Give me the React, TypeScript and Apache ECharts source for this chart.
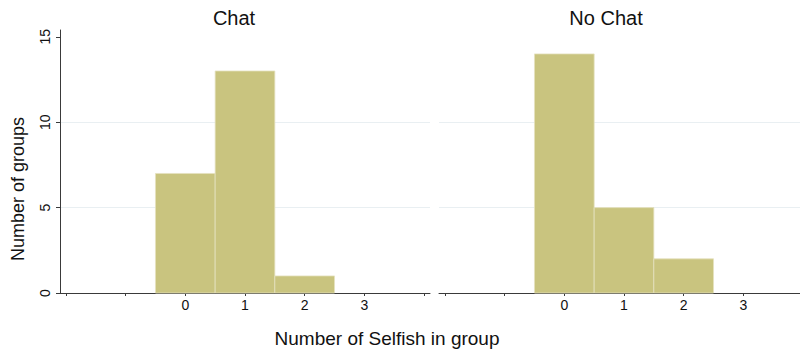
import React, { useEffect, useRef } from "react";
import * as echarts from "echarts";

const panels = ["Chat", "No Chat"];
const bins = [0, 1, 2];
const chatCounts = [7, 13, 1];
const noChatCounts = [14, 5, 2];
const xTicks = [-2, -1, 0, 1, 2, 3, 4];
const xLabels = [0, 1, 2, 3];
const yTicks = [0, 5, 10, 15];

const FONT = "Liberation Sans, Arial, sans-serif";
const BAR = "#c9c47f";
const AXIS = "#3a3a3a";

export default function App() {
  const ref = useRef<HTMLDivElement>(null);
  useEffect(() => {
    document.body.style.margin = "0";
    const chart = echarts.init(ref.current!, null, { renderer: "svg" });
    const grids = [
      { left: 60, top: 30, width: 370, height: 263, outerBoundsMode: "none", containLabel: false },
      { left: 439, top: 30, width: 370, height: 263, outerBoundsMode: "none", containLabel: false },
    ];
    const seriesData = [chatCounts, noChatCounts];
    const xAxes = grids.map((_, i) => ({
      type: "value",
      gridIndex: i,
      min: -2.1,
      max: 4.1,
      axisLine: { show: true, onZero: false, lineStyle: { color: AXIS, width: 1 } },
      axisTick: { show: true, customValues: xTicks, length: 3, lineStyle: { color: AXIS } },
      axisLabel: {
        customValues: xLabels,
        color: "#111",
        fontSize: 14,
        fontFamily: FONT,
        margin: 5,
      },
      splitLine: { show: false },
    }));
    const yAxes = grids.map((_, i) => ({
      type: "value",
      gridIndex: i,
      min: 0,
      max: 15.4,
      axisLine: { show: i === 0, onZero: false, lineStyle: { color: AXIS, width: 1 } },
      axisTick: { show: i === 0, customValues: yTicks, length: 4, lineStyle: { color: AXIS } },
      axisLabel: {
        show: i === 0,
        customValues: yTicks,
        rotate: 90,
        color: "#111",
        fontSize: 14,
        fontFamily: FONT,
        margin: 8,
      },
      splitLine: {
        show: true,
        showMinLine: false,
        showMaxLine: false,
        lineStyle: { color: "#e9eff2", width: 1 },
      },
    }));
    const series = seriesData.map((vals, i) => ({
      type: "custom",
      xAxisIndex: i,
      yAxisIndex: i,
      data: bins.map((b, j) => [b, vals[j]]),
      renderItem: (params: any, api: any) => {
        const x = api.value(0);
        const y = api.value(1);
        const p0 = api.coord([x - 0.5, y]);
        const p1 = api.coord([x + 0.5, 0]);
        return {
          type: "rect",
          shape: { x: p0[0], y: p0[1], width: p1[0] - p0[0], height: p1[1] - p0[1] },
          style: { fill: BAR, stroke: "#e4e1bf", lineWidth: 0.8 },
        };
      },
    }));
    chart.setOption({
      animation: false,
      backgroundColor: "#ffffff",
      grid: grids,
      xAxis: xAxes,
      yAxis: yAxes,
      series,
      graphic: [
        {
          type: "text",
          x: 234,
          y: 18,
          style: { text: panels[0], font: `20px ${FONT}`, fill: "#111", align: "center", verticalAlign: "middle" },
        },
        {
          type: "text",
          x: 606,
          y: 18,
          style: { text: panels[1], font: `20px ${FONT}`, fill: "#111", align: "center", verticalAlign: "middle" },
        },
        {
          type: "text",
          x: 387,
          y: 338,
          style: {
            text: "Number of Selfish in group",
            font: `19px ${FONT}`,
            fill: "#111",
            align: "center",
            verticalAlign: "middle",
          },
        },
        {
          type: "text",
          x: 18,
          y: 189,
          rotation: Math.PI / 2,
          style: {
            text: "Number of groups",
            font: `18px ${FONT}`,
            fill: "#111",
            align: "center",
            verticalAlign: "middle",
          },
        },
      ],
    });
    return () => chart.dispose();
  }, []);
  return <div ref={ref} style={{ width: 800, height: 350 }} />;
}
